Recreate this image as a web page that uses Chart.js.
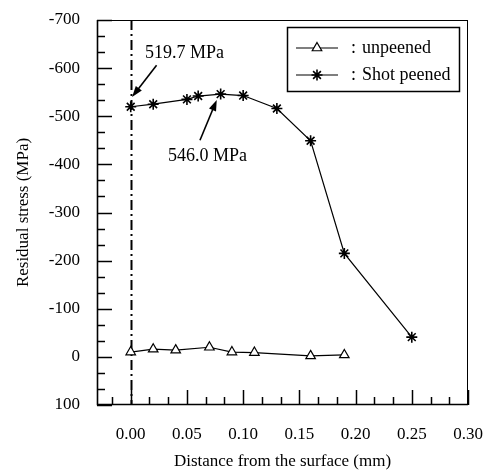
<!DOCTYPE html>
<html>
<head>
<meta charset="utf-8">
<script src="https://cdn.jsdelivr.net/npm/chart.js"></script>
<style>
  html, body { margin: 0; padding: 0; background: #fff; }
</style>
</head>
<body>
<canvas id="stressChart" width="489" height="472"></canvas>
<script>
// values: distance from the surface (mm) / residual stress (MPa)
const unpeenedDist   = [0.00, 0.02, 0.04, 0.07, 0.09, 0.11, 0.16, 0.19];
const unpeenedStress = [-10, -16, -14, -20, -10, -9, -2, -4];
const peenedDist     = [0.00, 0.02, 0.05, 0.06, 0.08, 0.10, 0.13, 0.16, 0.19, 0.25];
const peenedStress   = [-519.7, -525, -535, -542, -546.0, -543, -516, -449, -215, -41];
const seriesNames    = ['unpeened', 'Shot peened'];
const xTickLabels    = [0.00, 0.05, 0.10, 0.15, 0.20, 0.25, 0.30];
const yTickLabels    = [-700, -600, -500, -400, -300, -200, -100, 0, 100];

// callouts (text position and arrow given in data units)
const callouts = [
  { text: '519.7 MPa', tx: 0.0127, ty: -631, from: [0.023, -606], to: [0.0012, -540] },
  { text: '546.0 MPa', tx: 0.0332, ty: -416, from: [0.0616, -450], to: [0.0765, -534] }
];

const FONT = "'Liberation Serif', 'Times New Roman', serif";
Chart.defaults.font.family = FONT;
Chart.defaults.font.size = 17;
Chart.defaults.color = '#000';

const toPoints = (xs, ys) => xs.map((x, i) => ({ x: x, y: ys[i] }));

// majors from the label list plus two minor ticks between them
function thirdTicks(labels, min, max) {
  const step = (labels[1] - labels[0]) / 3;
  const out = [];
  for (let k = Math.ceil(min / step - 1e-6); k <= Math.floor(max / step + 1e-6); k++) {
    out.push({ value: k * step, major: k % 3 === 0 });
  }
  return out;
}
const isLabel = (v, labels) => labels.some(l => Math.abs(l - v) < 1e-9);

function drawMarker(ctx, style, x, y, r) {
  ctx.beginPath();
  if (style === 'triangle') {
    let rad = 0;
    ctx.moveTo(x + Math.sin(rad) * r, y - Math.cos(rad) * r);
    rad += 2 * Math.PI / 3;
    ctx.lineTo(x + Math.sin(rad) * r, y - Math.cos(rad) * r);
    rad += 2 * Math.PI / 3;
    ctx.lineTo(x + Math.sin(rad) * r, y - Math.cos(rad) * r);
    ctx.closePath();
    ctx.fillStyle = '#fff';
    ctx.fill();
  } else {
    const d = Math.cos(Math.PI / 4) * r;
    ctx.moveTo(x - r, y); ctx.lineTo(x + r, y);
    ctx.moveTo(x, y - r); ctx.lineTo(x, y + r);
    ctx.moveTo(x - d, y - d); ctx.lineTo(x + d, y + d);
    ctx.moveTo(x - d, y + d); ctx.lineTo(x + d, y - d);
  }
  ctx.stroke();
}

function arrow(ctx, x1, y1, x2, y2) {
  const ang = Math.atan2(y2 - y1, x2 - x1);
  const len = 11, hw = 3.8;
  ctx.beginPath();
  ctx.moveTo(x1, y1);
  ctx.lineTo(x2 - Math.cos(ang) * len * 0.8, y2 - Math.sin(ang) * len * 0.8);
  ctx.stroke();
  ctx.beginPath();
  ctx.moveTo(x2, y2);
  ctx.lineTo(x2 - Math.cos(ang) * len - Math.sin(ang) * hw, y2 - Math.sin(ang) * len + Math.cos(ang) * hw);
  ctx.lineTo(x2 - Math.cos(ang) * len + Math.sin(ang) * hw, y2 - Math.sin(ang) * len - Math.cos(ang) * hw);
  ctx.closePath();
  ctx.fill();
}

const paperPlugin = {
  id: 'paper',
  beforeDatasetsDraw(chart) {
    // dash-dot line marking the surface
    const { ctx, chartArea: a, scales: { x } } = chart;
    const px = Math.round(x.getPixelForValue(0)) + 0.5;
    ctx.save();
    ctx.strokeStyle = '#000';
    ctx.lineWidth = 2;
    ctx.setLineDash([10, 4, 2, 4]);
    ctx.beginPath();
    ctx.moveTo(px, a.top);
    ctx.lineTo(px, a.bottom);
    ctx.stroke();
    ctx.restore();
  },
  afterDraw(chart) {
    const { ctx, chartArea: a, scales: { x, y } } = chart;
    ctx.save();
    ctx.strokeStyle = '#000';
    ctx.fillStyle = '#000';

    // frame
    ctx.lineWidth = 1;
    ctx.strokeRect(Math.round(a.left) + 0.5, Math.round(a.top) + 0.5,
                   Math.round(a.right - a.left) - 1, Math.round(a.bottom - a.top) - 1);
    ctx.lineWidth = 1.6;
    ctx.beginPath();
    ctx.moveTo(a.left + 0.5, a.top); ctx.lineTo(a.left + 0.5, a.bottom - 0.5);
    ctx.lineTo(a.right, a.bottom - 0.5);
    ctx.stroke();

    // inward ticks
    ctx.lineWidth = 1.5;
    x.ticks.forEach(t => {
      const px = Math.round(x.getPixelForValue(t.value)) + 0.5;
      const len = isLabel(t.value, xTickLabels) ? 15 : 8;
      ctx.beginPath(); ctx.moveTo(px, a.bottom); ctx.lineTo(px, a.bottom - len); ctx.stroke();
    });
    y.ticks.forEach(t => {
      const py = Math.round(y.getPixelForValue(t.value)) + 0.5;
      const len = isLabel(t.value, yTickLabels) ? 15 : 8;
      ctx.beginPath(); ctx.moveTo(a.left, py); ctx.lineTo(a.left + len, py); ctx.stroke();
    });

    // legend box
    const bx = a.right - 181, by = a.top + 7, bw = 172, bh = 64;
    ctx.lineWidth = 1.5;
    ctx.strokeRect(bx + 0.5, by + 0.5, bw, bh);
    ctx.font = '18px ' + FONT;
    ctx.textBaseline = 'middle';
    ctx.textAlign = 'left';
    chart.data.datasets.forEach((ds, i) => {
      const ry = by + 21 + i * 27;
      ctx.lineWidth = 1.2;
      ctx.beginPath(); ctx.moveTo(bx + 9, ry); ctx.lineTo(bx + 51, ry); ctx.stroke();
      ctx.lineWidth = ds.pointBorderWidth;
      drawMarker(ctx, ds.pointStyle, bx + 30, ry, ds.pointRadius);
      ctx.fillStyle = '#000';
      ctx.fillText(':', bx + 64, ry);
      ctx.fillText(ds.label, bx + 75, ry);
    });

    // callouts
    callouts.forEach(c => {
      ctx.fillText(c.text, x.getPixelForValue(c.tx), y.getPixelForValue(c.ty));
      ctx.lineWidth = 1.6;
      arrow(ctx,
        x.getPixelForValue(c.from[0]), y.getPixelForValue(c.from[1]),
        x.getPixelForValue(c.to[0]), y.getPixelForValue(c.to[1]));
    });
    ctx.restore();
  }
};

const ctx = document.getElementById('stressChart').getContext('2d');
const chart = new Chart(ctx, {
  type: 'line',
  data: {
    datasets: [{
      label: seriesNames[0],
      data: toPoints(unpeenedDist, unpeenedStress),
      borderColor: '#000',
      borderWidth: 1.2,
      pointStyle: 'triangle',
      pointRadius: 5.5,
      pointBorderWidth: 1.2,
      pointBackgroundColor: '#fff',
      pointBorderColor: '#000',
      tension: 0
    }, {
      label: seriesNames[1],
      data: toPoints(peenedDist, peenedStress),
      borderColor: '#000',
      borderWidth: 1.2,
      pointStyle: 'star',
      pointRadius: 5.5,
      pointBorderWidth: 1.6,
      pointBorderColor: '#000',
      tension: 0
    }]
  },
  options: {
    responsive: false,
    animation: false,
    devicePixelRatio: 1,
    layout: { padding: { top: 20, right: 21, left: 0, bottom: 0 } },
    plugins: { legend: { display: false }, tooltip: { enabled: false } },
    scales: {
      x: {
        type: 'linear',
        min: -0.03,
        max: 0.30,
        grid: { display: false, drawTicks: false },
        border: { display: false },
        afterBuildTicks: s => { s.ticks = thirdTicks(xTickLabels, s.min, s.max); },
        afterFit: s => { s.height = 67; s.paddingLeft = 0; s.paddingRight = 0; },
        ticks: {
          autoSkip: false,
          maxRotation: 0,
          padding: 19,
          callback: v => isLabel(v, xTickLabels) ? v.toFixed(2) : ''
        },
        title: {
          display: true,
          text: 'Distance from the surface (mm)',
          font: { size: 17 },
          padding: { top: 0, bottom: 0 }
        }
      },
      y: {
        type: 'linear',
        reverse: true,
        min: -700,
        max: 100,
        grid: { display: false, drawTicks: false },
        border: { display: false },
        afterBuildTicks: s => { s.ticks = thirdTicks(yTickLabels, s.min, s.max); },
        afterFit: s => { s.width = 97; s.paddingTop = 0; s.paddingBottom = 0; },
        ticks: {
          autoSkip: false,
          padding: 17,
          callback: v => isLabel(v, yTickLabels) ? String(Math.round(v)) : ''
        },
        title: {
          display: true,
          text: 'Residual stress (MPa)',
          font: { size: 17 },
          padding: { top: 13, bottom: 0 }
        }
      }
    }
  },
  plugins: [paperPlugin]
});
</script>
</body>
</html>
